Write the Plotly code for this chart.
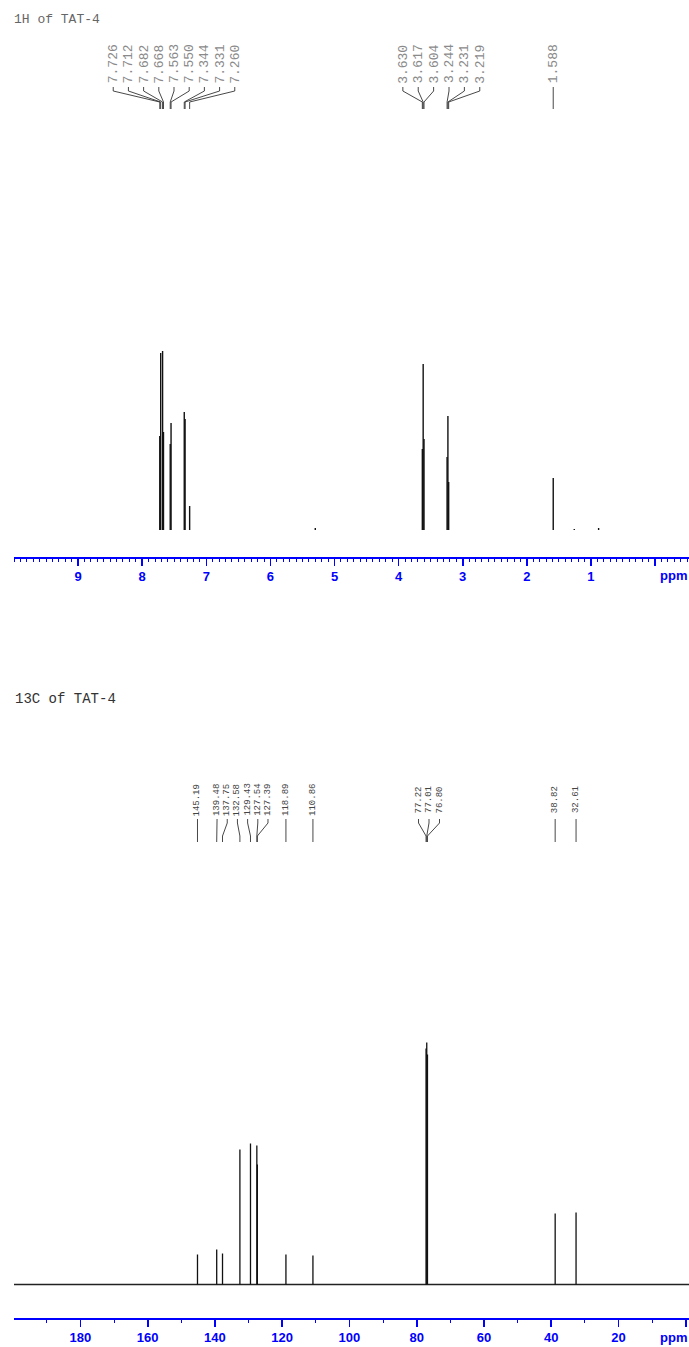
import plotly.graph_objects as go

# ---------------- data ----------------
# 1H spectrum (ppm, relative intensity)
h_shifts = [7.726, 7.712, 7.682, 7.668, 7.563, 7.550, 7.344, 7.331, 7.260,
            3.630, 3.617, 3.604, 3.244, 3.231, 3.219, 1.588]
h_heights = [94, 177, 179, 98, 86, 107, 118, 111, 24,
             81, 166, 91, 73, 114, 48, 52]
h_labels = ["7.726", "7.712", "7.682", "7.668", "7.563", "7.550", "7.344", "7.331", "7.260",
            "3.630", "3.617", "3.604", "3.244", "3.231", "3.219", "1.588"]
h_small_shifts = [5.30, 1.26, 0.88]
h_small_heights = [2, 1, 2]
h_tickvals = [9, 8, 7, 6, 5, 4, 3, 2, 1, 0]
h_ticktext = ["9", "8", "7", "6", "5", "4", "3", "2", "1", ""]

# 13C spectrum (ppm, relative intensity)
c_shifts = [145.19, 139.48, 137.75, 132.58, 129.43, 127.54, 127.39, 118.89, 110.86,
            77.22, 77.01, 76.80, 38.82, 32.61]
c_heights = [30, 35, 31, 135, 141, 139, 120, 30, 29,
             236, 242, 230, 71, 72]
c_labels = ["145.19", "139.48", "137.75", "132.58", "129.43", "127.54", "127.39", "118.89", "110.86",
            "77.22", "77.01", "76.80", "38.82", "32.61"]
c_tickvals = [180, 160, 140, 120, 100, 80, 60, 40, 20, 0]
c_ticktext = ["180", "160", "140", "120", "100", "80", "60", "40", "20", ""]

# ---------------- layout helpers ----------------
W, H = 689, 1347
H_BASE_PX = 530.0      # 1H baseline pixel row
H_AXIS_PX = 556.7
C_BASE_PX = 1284.5
C_AXIS_PX = 1317.7
C_TOP_PX = 680.0

def hy(px):
    return H_BASE_PX - px

def cy(px):
    return C_BASE_PX - px

def label_positions(shifts, groups):
    pos = list(shifts)
    for idx, center, spacing in groups:
        n = len(idx)
        for k, i in enumerate(idx):
            pos[i] = center + ((n - 1) / 2 - k) * spacing
    return pos

h_label_x = label_positions(h_shifts, [(list(range(0, 9)), 7.504, 0.237),
                                       (list(range(9, 15)), 3.334, 0.240)])
c_label_x = label_positions(c_shifts, [(list(range(1, 7)), 131.8, 3.03),
                                       (list(range(9, 12)), 76.34, 3.12)])

def sticks(xs, ys):
    X, Y = [], []
    for x, y in zip(xs, ys):
        X += [x, x, None]
        Y += [0, y, None]
    return X, Y

def leaders(lx, px, yvals):
    X, Y = [], []
    for a, b in zip(lx, px):
        X += [a, a, b, b, None]
        Y += list(yvals) + [None]
    return X, Y

fig = go.Figure()

# 1H peaks
X, Y = sticks(h_shifts + h_small_shifts, h_heights + h_small_heights)
fig.add_trace(go.Scatter(x=X, y=Y, mode="lines", line=dict(color="#111111", width=1.4),
                         xaxis="x", yaxis="y", hoverinfo="skip", showlegend=False))
X, Y = leaders(h_label_x, h_shifts, [hy(87), hy(91), hy(102), hy(109)])
fig.add_trace(go.Scatter(x=X, y=Y, mode="lines", line=dict(color="#333333", width=0.9),
                         xaxis="x", yaxis="y", hoverinfo="skip", showlegend=False))

# 13C baseline + peaks
c_range = [199.76, -0.98]
fig.add_trace(go.Scatter(x=c_range, y=[0, 0], mode="lines", line=dict(color="#222222", width=1.6),
                         xaxis="x2", yaxis="y2", hoverinfo="skip", showlegend=False))
X, Y = sticks(c_shifts, c_heights)
fig.add_trace(go.Scatter(x=X, y=Y, mode="lines", line=dict(color="#111111", width=1.3),
                         xaxis="x2", yaxis="y2", hoverinfo="skip", showlegend=False))
X, Y = leaders(c_label_x, c_shifts, [cy(819), cy(823), cy(836), cy(842)])
fig.add_trace(go.Scatter(x=X, y=Y, mode="lines", line=dict(color="#333333", width=0.9),
                         xaxis="x2", yaxis="y2", hoverinfo="skip", showlegend=False))

annotations = []
for x, t in zip(h_label_x, h_labels):
    annotations.append(dict(x=x, y=hy(64), xref="x", yref="y", text=t, textangle=-90,
                            showarrow=False, xanchor="center", yanchor="middle",
                            font=dict(family="Liberation Mono, monospace", size=13, color="#8a8a8a")))
for x, t in zip(c_label_x, c_labels):
    annotations.append(dict(x=x, y=cy(800), xref="x2", yref="y2", text=t, textangle=-90,
                            showarrow=False, xanchor="center", yanchor="middle",
                            font=dict(family="Liberation Mono, monospace", size=9, color="#444444")))

annotations.append(dict(x=12 / W, y=1 - 19.5 / H, xref="paper", yref="paper", text="1H of TAT-4",
                        showarrow=False, xanchor="left", yanchor="middle",
                        font=dict(family="Liberation Mono, monospace", size=13, color="#666666")))
annotations.append(dict(x=13 / W, y=1 - 699 / H, xref="paper", yref="paper", text="13C of TAT-4",
                        showarrow=False, xanchor="left", yanchor="middle",
                        font=dict(family="Liberation Mono, monospace", size=14, color="#333333")))
for ypx in (575, 1337):
    annotations.append(dict(x=1.0, y=1 - ypx / H, xref="paper", yref="paper", text="ppm",
                            showarrow=False, xanchor="right", yanchor="middle",
                            font=dict(family="Liberation Sans, Arial, sans-serif", size=13,
                                      color="#0000ff", weight="bold")))

axis_common = dict(showline=True, linecolor="#0000ff", linewidth=2, ticks="outside", ticklen=7,
                   tickwidth=1.6, tickcolor="#0000ff", showgrid=False, zeroline=False,
                   tickfont=dict(family="Liberation Sans, Arial, sans-serif", size=13,
                                 color="#0000ff", weight="bold"),
                   fixedrange=True, mirror=False)

fig.update_layout(
    width=W, height=H, margin=dict(l=0, r=0, t=0, b=0),
    paper_bgcolor="white", plot_bgcolor="white", showlegend=False,
    xaxis=dict(domain=[14 / W, 1], range=[10.0, -0.53], anchor="y",
               tickmode="array", tickvals=h_tickvals, ticktext=h_ticktext,
               minor=dict(dtick=0.1, tick0=0, ticks="outside", ticklen=3, tickwidth=1,
                          tickcolor="#0000ff", showgrid=False),
               **axis_common),
    yaxis=dict(domain=[1 - H_AXIS_PX / H, 1], range=[hy(H_AXIS_PX), hy(0)], anchor="x",
               visible=False, fixedrange=True),
    xaxis2=dict(domain=[14 / W, 1], range=c_range, anchor="y2",
                tickmode="array", tickvals=c_tickvals, ticktext=c_ticktext,
                minor=dict(dtick=10, tick0=0, ticks="outside", ticklen=3, tickwidth=1,
                           tickcolor="#0000ff", showgrid=False),
                **axis_common),
    yaxis2=dict(domain=[1 - C_AXIS_PX / H, 1 - C_TOP_PX / H], range=[cy(C_AXIS_PX), cy(C_TOP_PX)],
                anchor="x2", visible=False, fixedrange=True),
    annotations=annotations,
    hovermode=False,
)

fig.write_html("out.html", config={"displayModeBar": False, "staticPlot": True})
